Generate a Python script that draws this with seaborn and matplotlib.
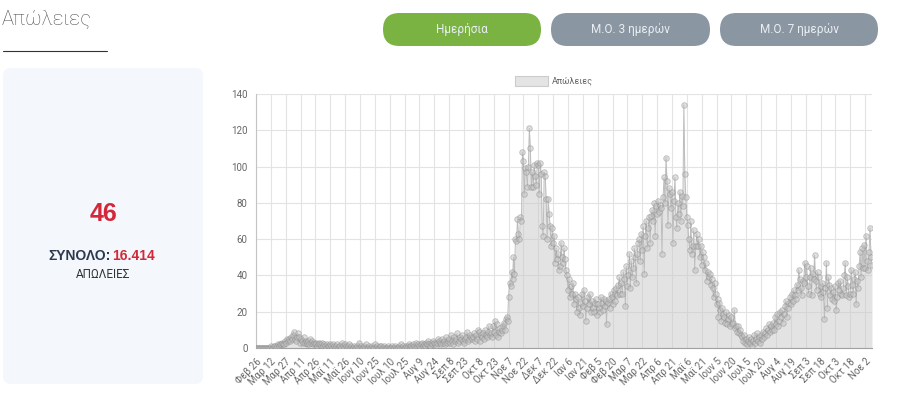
import numpy as np
import pandas as pd
import matplotlib
matplotlib.use("Agg")
import matplotlib.pyplot as plt
from matplotlib.patches import FancyBboxPatch
import seaborn as sns

# daily deaths, one list per month (Feb 26 2020 -> Nov 9 2021)
feb20 = [0, 0, 0, 0]
mar20 = [0, 0, 0, 0, 0, 0, 0, 0, 0, 0, 0, 1, 0, 0, 1, 1, 0, 1, 2, 1, 2, 2, 3, 2, 2, 4, 3, 5, 4, 5, 4]
apr20 = [6, 5, 7, 9, 5, 4, 6, 8, 6, 3, 5, 4, 3, 6, 3, 4, 2, 3, 4, 2, 5, 3, 4, 2, 3, 2, 3, 1, 2, 3]
may20 = [2, 1, 3, 1, 2, 1, 0, 2, 1, 1, 2, 1, 0, 2, 1, 0, 1, 2, 0, 1, 1, 0, 3, 1, 0, 2, 1, 0, 1, 2, 0]
jun20 = [1, 0, 0, 1, 0, 0, 1, 0, 3, 0, 1, 0, 0, 1, 0, 2, 0, 0, 1, 0, 0, 1, 0, 0, 2, 0, 1, 0, 0, 1]
jul20 = [1, 0, 0, 1, 0, 0, 0, 1, 0, 0, 0, 1, 0, 0, 1, 0, 0, 0, 1, 0, 2, 0, 1, 0, 0, 1, 0, 1, 2, 1, 0]
aug20 = [1, 0, 2, 1, 0, 3, 1, 2, 1, 0, 2, 3, 1, 2, 1, 3, 2, 4, 2, 1, 3, 2, 4, 3, 2, 1, 3, 5, 4, 3, 2]
sep20 = [5, 3, 4, 2, 6, 3, 4, 5, 3, 7, 4, 2, 6, 4, 5, 8, 3, 4, 6, 5, 7, 4, 3, 5, 6, 9, 4, 5, 7, 6]
oct20 = [5, 6, 8, 4, 7, 5, 10, 9, 4, 7, 6, 8, 5, 10, 7, 6, 9, 12, 7, 8, 6, 12, 9, 15, 7, 13, 6, 9, 11, 8, 10]
nov20 = [12, 14, 10, 16, 17, 15, 28, 36, 34, 42, 38, 50, 41, 60, 59, 71, 63, 60, 72, 70,
         108, 103, 85, 99, 97, 89, 100, 121, 110, 89]
dec20 = [97, 89, 101, 95, 90, 102, 101, 85, 102, 96, 67, 62, 97, 95, 82, 60, 82, 74, 67, 56,
         66, 58, 62, 47, 55, 49, 52, 43, 45, 58, 50]
jan21 = [47, 55, 49, 43, 40, 32, 38, 28, 34, 30, 36, 24, 30, 27, 20, 28, 22, 18, 25, 30,
         23, 32, 26, 15, 22, 28, 24, 30, 20, 26, 22]
feb21 = [20, 25, 27, 18, 24, 22, 20, 28, 25, 21, 27, 23, 26, 13, 25, 27, 22, 30, 28, 24,
         32, 26, 30, 33, 29, 35, 39, 30]
mar21 = [36, 30, 42, 38, 23, 45, 34, 40, 52, 33, 48, 39, 44, 55, 50, 36, 52, 58, 60, 48,
         63, 54, 67, 41, 62, 70, 55, 66, 72, 58, 73]
apr21 = [76, 70, 80, 62, 78, 74, 81, 75, 79, 77, 52, 83, 94, 80, 105, 92, 68, 88, 85, 77,
         86, 58, 81, 94, 72, 66, 80, 74, 86, 70]
may21 = [84, 78, 134, 96, 83, 72, 68, 60, 54, 70, 52, 56, 65, 43, 56, 63, 56, 60, 50, 56,
         46, 53, 50, 43, 47, 37, 42, 39, 41, 35, 38]
jun21 = [33, 28, 36, 30, 24, 27, 17, 25, 21, 15, 22, 19, 17, 14, 20, 13, 16, 18, 12, 17,
         13, 14, 21, 11, 12, 9, 12, 8, 10, 7]
jul21 = [6, 4, 7, 3, 5, 2, 4, 6, 3, 5, 1, 4, 7, 3, 5, 8, 4, 6, 3, 7, 5, 9, 6, 8, 11, 7, 10, 13, 9, 12, 10]
aug21 = [14, 10, 17, 13, 19, 12, 15, 20, 17, 21, 14, 19, 23, 26, 17, 22, 25, 28, 24, 30,
         26, 32, 29, 27, 35, 32, 43, 38, 33, 29, 37]
sep21 = [36, 47, 39, 45, 34, 30, 39, 44, 29, 41, 38, 51, 37, 32, 42, 39, 30, 34, 28, 36,
         31, 16, 33, 47, 22, 39, 35, 29, 33, 27]
oct21 = [31, 26, 34, 21, 28, 36, 32, 37, 30, 29, 33, 40, 47, 29, 39, 34, 28, 30, 43, 35,
         30, 38, 42, 24, 37, 33, 45, 53, 39, 55, 44]
nov21 = [57, 44, 62, 48, 43, 53, 66, 50, 46]

deaths = (feb20 + mar20 + apr20 + may20 + jun20 + jul20 + aug20 + sep20 + oct20 + nov20 + dec20
          + jan21 + feb21 + mar21 + apr21 + may21 + jun21 + jul21 + aug21 + sep21 + oct21 + nov21)

tick_labels = ["Φεβ 26", "Μαρ 12", "Μαρ 27", "Απρ 11", "Απρ 26", "Μαϊ 11", "Μαϊ 26", "Ιουν 10",
               "Ιουν 25", "Ιουλ 10", "Ιουλ 25", "Αυγ 9", "Αυγ 24", "Σεπ 8", "Σεπ 23", "Οκτ 8",
               "Οκτ 23", "Νοε 7", "Νοε 22", "Δεκ 7", "Δεκ 22", "Ιαν 6", "Ιαν 21", "Φεβ 5",
               "Φεβ 20", "Μαρ 7", "Μαρ 22", "Απρ 6", "Απρ 21", "Μαϊ 6", "Μαϊ 21", "Ιουν 5",
               "Ιουν 20", "Ιουλ 5", "Ιουλ 20", "Αυγ 4", "Αυγ 19", "Σεπ 3", "Σεπ 18", "Οκτ 3",
               "Οκτ 18", "Νοε 2"]
y_ticks = [0, 20, 40, 60, 80, 100, 120, 140]

series_name = "Απώλειες"
buttons = ["Ημερήσια", "Μ.Ο. 3 ημερών", "Μ.Ο. 7 ημερών"]
today_value = "46"
total_value = "16.414"

sns.set_style("white")
plt.rcParams["font.family"] = ["Roboto", "DejaVu Sans"]
bold_font = ["Liberation Sans", "DejaVu Sans"]

df = pd.DataFrame({"day": np.arange(len(deaths)), "deaths": deaths})

fig = plt.figure(figsize=(9, 4.09), dpi=100)

# page elements drawn in pixel coords
bg = fig.add_axes([0, 0, 1, 1])
bg.set_xlim(0, 900)
bg.set_ylim(409, 0)
bg.axis("off")

bg.text(2, 19, series_name, fontsize=14.5, color="#4f4f4f", fontweight="light", va="center", ha="left")
bg.plot([3, 107], [51, 51], color="#333333", lw=0.8)

btn_x = [(383, 541), (551, 710), (720, 878)]
btn_col = ["#7ab342", "#8b96a3", "#8b96a3"]
for (x0, x1), c, lab in zip(btn_x, btn_col, buttons):
    bg.add_patch(FancyBboxPatch((x0, 13), x1 - x0, 33,
                                boxstyle="round,pad=0,rounding_size=16.5",
                                fc=c, ec="none"))
    bg.text((x0 + x1) / 2, 29.5, lab, fontsize=8.5, color="#e9eef2", ha="center", va="center")

# left card
bg.add_patch(FancyBboxPatch((3, 68), 200, 316, boxstyle="round,pad=0,rounding_size=8",
                            fc="#f4f7fb", ec="none"))
bg.text(103, 214, today_value, fontsize=18, fontweight="bold", color="#d3283a",
        ha="center", va="center", family=bold_font)
bg.text(48, 256, "ΣΥΝΟΛΟ:", fontsize=10, fontweight="bold", color="#2c3a4f",
        ha="left", va="center", family=bold_font)
bg.text(155, 256, total_value, fontsize=10, fontweight="bold", color="#d3283a",
        ha="right", va="center", family=bold_font)
bg.text(103, 274, "ΑΠΩΛΕΙΕΣ", fontsize=8.5, color="#333333", ha="center", va="center")

# legend
bg.add_patch(plt.Rectangle((515, 76), 33, 10, fc="#e4e4e4", ec="#cccccc", lw=0.8))
bg.text(552, 81, series_name, fontsize=6.5, color="#666666", ha="left", va="center")

# chart
ax = fig.add_axes([256 / 900, (409 - 348) / 409, 616 / 900, 254 / 409])
ax.fill_between(df["day"], df["deaths"], color="#c8c8c8", alpha=0.5, lw=0, zorder=1)
sns.lineplot(data=df, x="day", y="deaths", color="#bdbdbd", lw=0.7, ax=ax, zorder=2)
sns.scatterplot(data=df, x="day", y="deaths", s=16, color="#c0c0c0", edgecolor="#8a8a8a",
                linewidth=0.6, alpha=0.5, ax=ax, zorder=3)

ax.set_xlim(0, len(deaths) - 1)
ax.set_ylim(0, 140)
ax.set_xticks(np.arange(0, len(deaths), 15))
ax.set_xticklabels(tick_labels, rotation=45, ha="right", rotation_mode="anchor",
                   fontsize=7, color="#666666")
ax.set_yticks(y_ticks)
ax.set_yticklabels([str(v) for v in y_ticks], fontsize=7, color="#666666")
ax.grid(True, color="#e3e3e3", lw=0.8, zorder=0)
ax.set_axisbelow(True)
ax.tick_params(axis="both", length=4, width=0.8, color="#dddddd", pad=2)
ax.set_xlabel("")
ax.set_ylabel("")
for s in ["top", "right"]:
    ax.spines[s].set_visible(False)
ax.spines["left"].set_color("#c4c4c4")
ax.spines["bottom"].set_color("#a0a0a0")
ax.spines["left"].set_linewidth(0.8)
ax.spines["bottom"].set_linewidth(0.8)
ax.patch.set_alpha(0)

fig.savefig("out.png", dpi=100)
